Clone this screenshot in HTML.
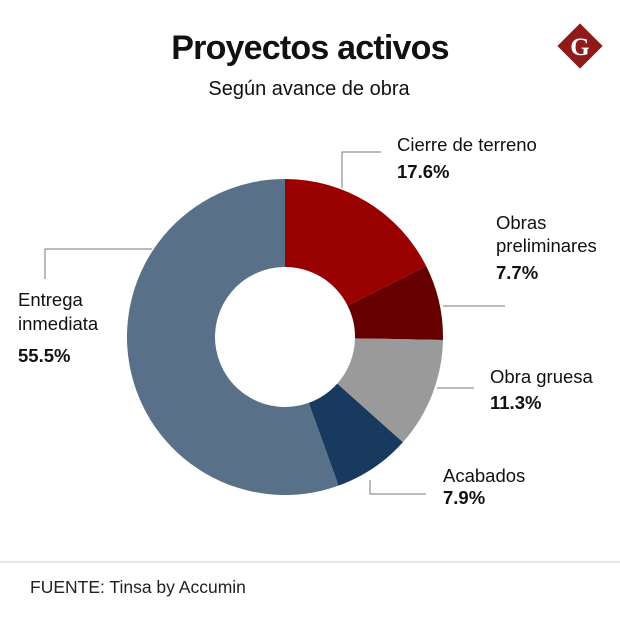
<!DOCTYPE html>
<html><head><meta charset="utf-8"><style>
body{margin:0;background:#fff;font-family:"Liberation Sans",sans-serif;}
svg{display:block}
</style></head><body>
<svg width="620" height="629" viewBox="0 0 620 629">
<text x="310" y="59" text-anchor="middle" font-size="34" font-weight="bold" fill="#111" style="letter-spacing:-0.8px">Proyectos activos</text>
<text x="309" y="95" text-anchor="middle" font-size="20" fill="#111">Según avance de obra</text>
<g>
<rect x="564" y="30" width="32" height="32" fill="#8f1a1a" transform="rotate(45 580 46)"/>
<text x="580" y="55" text-anchor="middle" font-size="25" font-weight="bold" font-family="Liberation Serif,serif" fill="#fff">G</text>
</g>
<g id="slices"></g>
<g stroke="#777" stroke-width="1" fill="none">
<polyline points="342,188 342,152 381,152"/>
<polyline points="443,306 505,306"/>
<polyline points="437,388 474,388"/>
<polyline points="370,480 370,494 426,494"/>
<polyline points="152,249 45,249 45,279"/>
</g>
<g font-size="18.5" fill="#111">
<text x="397" y="151">Cierre de terreno</text>
<text x="397" y="178" font-weight="bold">17.6%</text>
<text x="496" y="229">Obras</text>
<text x="496" y="252">preliminares</text>
<text x="496" y="279" font-weight="bold">7.7%</text>
<text x="490" y="383">Obra gruesa</text>
<text x="490" y="409" font-weight="bold">11.3%</text>
<text x="443" y="482">Acabados</text>
<text x="443" y="504" font-weight="bold">7.9%</text>
<text x="18" y="306">Entrega</text>
<text x="18" y="330">inmediata</text>
<text x="18" y="362" font-weight="bold">55.5%</text>
</g>
<line x1="0" y1="562" x2="620" y2="562" stroke="#ccc"/>
<text x="30" y="593" font-size="17.5" fill="#222">FUENTE: Tinsa by Accumin</text>
</svg>
<script>
const categories=["Cierre de terreno","Obras preliminares","Obra gruesa","Acabados","Entrega inmediata"];
const values=[17.6,7.7,11.3,7.9,55.5];
const colors=["#990000","#660000","#9a9a9a","#173a5e","#587088"];
const cx=285,cy=337,R=158,r=70;
const g=document.getElementById('slices');
const total=values.reduce((a,b)=>a+b,0);
function pt(a,rad){return [cx+rad*Math.sin(a),cy-rad*Math.cos(a)];}
let acc=0;
values.forEach((v,i)=>{
  const a0=acc/total*2*Math.PI; acc+=v; const a1=acc/total*2*Math.PI;
  const lg=(a1-a0)>Math.PI?1:0;
  const p0=pt(a0,R),p1=pt(a1,R),q1=pt(a1,r),q0=pt(a0,r);
  const p=document.createElementNS('http://www.w3.org/2000/svg','path');
  p.setAttribute('d',`M${p0[0]},${p0[1]}A${R},${R} 0 ${lg} 1 ${p1[0]},${p1[1]}L${q1[0]},${q1[1]}A${r},${r} 0 ${lg} 0 ${q0[0]},${q0[1]}Z`);
  p.setAttribute('fill',colors[i]);
  
  
  g.appendChild(p);
});
</script>
</body></html>
